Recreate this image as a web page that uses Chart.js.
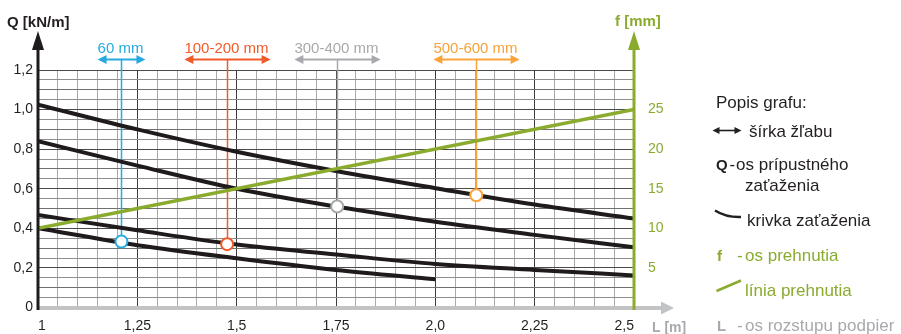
<!DOCTYPE html>
<html>
<head>
<meta charset="utf-8">
<script src="https://cdn.jsdelivr.net/npm/chart.js@4/dist/chart.umd.min.js"></script>
<style>
  html, body { margin: 0; padding: 0; background: #ffffff; }
  #wrap { width: 901px; height: 334px; position: relative; }
</style>
</head>
<body>
<div id="wrap"><canvas id="c" width="901" height="334"></canvas></div>
<script>
// ---- data ----
const spanL = [1, 1.25, 1.5, 1.75, 2.0, 2.25, 2.5];           // L [m]
const curveA = [1.025, 0.90, 0.787, 0.69, 0.603, 0.52, 0.45];  // Q [kN/m]
const curveB = [0.84, 0.717, 0.60, 0.51, 0.433, 0.367, 0.304];
const curveC = [0.4675, 0.39, 0.318, 0.268, 0.22, 0.19, 0.162];
const spanD = [1, 1.25, 1.5, 1.75, 2.0];
const curveD = [0.40, 0.315, 0.249, 0.19, 0.143];
const deflectionL = [1, 2.5];
const deflectionF = [10, 25];                                   // f [mm]
const widthLabels = ['60 mm', '100-200 mm', '300-400 mm', '500-600 mm'];
const markerL = [1.21, 1.476, 1.753, 2.103];
const markerQ = [0.333, 0.32, 0.51, 0.567];
const xTickValues = [1, 1.25, 1.5, 1.75, 2.0, 2.25, 2.5];
const xTickLabels = ['1', '1,25', '1,5', '1,75', '2,0', '2,25', '2,5'];
const yTickValues = [0, 0.2, 0.4, 0.6, 0.8, 1.0, 1.2];
const yTickLabels = ['0', '0,2', '0,4', '0,6', '0,8', '1,0', '1,2'];
const fTickValues = [5, 10, 15, 20, 25];
const fTickLabels = ['5', '10', '15', '20', '25'];

// ---- styles ----
const markerColors = ['#27aae1', '#f15a29', '#a7a9ac', '#f9a33a'];
const GREEN = '#8aab2e';
const BLACK = '#1f1b1c';
const TEXT = '#231f20';
const GREY = '#a7a9ac';
const FONT = '"Liberation Sans", Arial, Helvetica, sans-serif';

function near(a, b) { return Math.abs(a - b) < 1e-6; }
function isMult(v, s) { const r = v / s; return Math.abs(r - Math.round(r)) < 1e-6; }
function pts(xs, ys) { return xs.map((v, i) => ({ x: v, y: ys[i] })); }

function arrowHead(ctx, tx, ty, dx, dy, len, half) {
  const bx = tx - dx * len, by = ty - dy * len;
  ctx.beginPath();
  ctx.moveTo(tx, ty);
  ctx.lineTo(bx - dy * half, by + dx * half);
  ctx.lineTo(bx + dy * half, by - dx * half);
  ctx.closePath();
  ctx.fill();
}

const deco = {
  id: 'deco',
  beforeDatasetsDraw(chart) {
    const { ctx, scales: { x, y }, chartArea } = chart;
    const topY = chartArea.top - 10.5;
    ctx.save();
    markerL.forEach((l, i) => {
      const px = Math.round(x.getPixelForValue(l)) + 0.5;
      const py = y.getPixelForValue(markerQ[i]);
      ctx.strokeStyle = markerColors[i];
      ctx.lineWidth = 1.5;
      ctx.beginPath();
      ctx.moveTo(px, topY);
      ctx.lineTo(px, py);
      ctx.stroke();
    });
    ctx.restore();
  },
  afterDatasetsDraw(chart) {
    const { ctx, chartArea } = chart;
    const L = chartArea.left, R = chartArea.right, B = chartArea.bottom;
    ctx.save();
    ctx.strokeStyle = '#c2c3c5';
    ctx.fillStyle = '#c2c3c5';
    ctx.lineWidth = 4;
    ctx.beginPath(); ctx.moveTo(L, B + 0.5); ctx.lineTo(R + 30, B + 0.5); ctx.stroke();
    arrowHead(ctx, R + 40, B + 0.5, 1, 0, 13, 6.5);
    ctx.strokeStyle = BLACK; ctx.fillStyle = BLACK; ctx.lineWidth = 3;
    ctx.beginPath(); ctx.moveTo(L, B + 2.5); ctx.lineTo(L, 48); ctx.stroke();
    arrowHead(ctx, L, 31, 0, -1, 19, 6);
    ctx.strokeStyle = GREEN; ctx.fillStyle = GREEN; ctx.lineWidth = 3;
    ctx.beginPath(); ctx.moveTo(R, B + 2.5); ctx.lineTo(R, 48); ctx.stroke();
    arrowHead(ctx, R, 31, 0, -1, 19, 6);
    ctx.restore();
  },
  afterDraw(chart) {
    const { ctx, scales: { x }, chartArea } = chart;
    const topY = chartArea.top - 10.5;
    ctx.save();
    ctx.font = '15px ' + FONT;
    ctx.textAlign = 'center';
    ctx.textBaseline = 'alphabetic';
    markerL.forEach((l, i) => {
      const px = Math.round(x.getPixelForValue(l)) + 0.5;
      const w = ctx.measureText(widthLabels[i]).width;
      ctx.fillStyle = markerColors[i];
      ctx.strokeStyle = markerColors[i];
      ctx.fillText(widthLabels[i], px - 1, 53);
      const half = w / 2 + 1;
      ctx.lineWidth = 1.8;
      ctx.beginPath(); ctx.moveTo(px - half + 6, topY); ctx.lineTo(px + half - 6, topY); ctx.stroke();
      arrowHead(ctx, px - half, topY, -1, 0, 9, 4.5);
      arrowHead(ctx, px + half, topY, 1, 0, 9, 4.5);
    });
    ctx.textAlign = 'left';
    ctx.font = 'bold 15px ' + FONT;
    ctx.fillStyle = TEXT;
    ctx.fillText('Q [kN/m]', 7, 27);
    ctx.fillStyle = GREEN;
    ctx.fillText('f [mm]', 615, 26);
    ctx.fillStyle = GREY;
    ctx.font = 'bold 14px ' + FONT;
    ctx.fillText('L [m]', 652, 332);

    // legend
    const LX = 716;
    const REG = '17px ' + FONT, BOLD = 'bold 15px ' + FONT;
    ctx.font = REG;
    ctx.fillStyle = TEXT;
    ctx.fillText('Popis grafu:', LX, 108);
    ctx.strokeStyle = TEXT; ctx.lineWidth = 1.6;
    ctx.beginPath(); ctx.moveTo(718, 130.5); ctx.lineTo(736, 130.5); ctx.stroke();
    arrowHead(ctx, 712.5, 130.5, -1, 0, 7, 3.5);
    arrowHead(ctx, 741.5, 130.5, 1, 0, 7, 3.5);
    ctx.fillText('šírka žľabu', 749, 137);
    ctx.font = BOLD;
    ctx.fillText('Q', LX, 170);
    ctx.font = REG;
    ctx.fillText('-', 729.5, 170);
    ctx.fillText('os prípustného', 736, 170);
    ctx.fillText('zaťaženia', 745, 191);
    ctx.lineWidth = 2.5;
    ctx.beginPath(); ctx.moveTo(715, 210.5); ctx.quadraticCurveTo(726, 217.5, 741, 217); ctx.stroke();
    ctx.fillText('krivka zaťaženia', 747, 226);
    ctx.fillStyle = GREEN;
    ctx.font = BOLD;
    ctx.fillText('f', LX + 1, 261);
    ctx.font = REG;
    ctx.fillText('-', 737, 261);
    ctx.fillText('os prehnutia', 745, 261);
    ctx.strokeStyle = GREEN; ctx.lineWidth = 2.5;
    ctx.beginPath(); ctx.moveTo(716.5, 291); ctx.lineTo(741, 280.5); ctx.stroke();
    ctx.fillText('línia prehnutia', 745, 296);
    ctx.fillStyle = GREY;
    ctx.font = BOLD;
    ctx.fillText('L', LX + 1, 331);
    ctx.font = REG;
    ctx.fillText('-', 737, 331);
    ctx.fillText('os rozstupu podpier', 745, 331);
    ctx.restore();
  }
};

const curveStyle = (data) => ({
  type: 'line', data, yAxisID: 'y', borderColor: BLACK, borderWidth: 4,
  pointRadius: 0, cubicInterpolationMode: 'monotone', order: 3, fill: false
});

new Chart(document.getElementById('c'), {
  type: 'line',
  data: {
    datasets: [
      {
        type: 'scatter', data: pts(markerL, markerQ), yAxisID: 'y', showLine: false,
        pointRadius: 6, pointHoverRadius: 6, pointBackgroundColor: '#ffffff',
        pointBorderColor: markerColors, pointBorderWidth: 2, order: 0
      },
      {
        type: 'line', data: pts(deflectionL, deflectionF), yAxisID: 'y2',
        borderColor: GREEN, borderWidth: 3.5, pointRadius: 0, order: 1, fill: false
      },
      curveStyle(pts(spanL, curveA)),
      curveStyle(pts(spanL, curveB)),
      curveStyle(pts(spanL, curveC)),
      curveStyle(pts(spanD, curveD))
    ]
  },
  options: {
    responsive: false,
    animation: false,
    events: [],
    layout: { padding: { top: 70, left: 0, right: 0, bottom: 0 } },
    plugins: { legend: { display: false }, tooltip: { enabled: false } },
    scales: {
      x: {
        type: 'linear', min: 1, max: 2.5,
        border: { display: false },
        grid: {
          drawTicks: false,
          color: (c) => (c.tick && isMult(c.tick.value, 0.25)) ? '#3c3c3c' : '#a9a9a9',
          lineWidth: 1
        },
        ticks: {
          stepSize: 0.05, autoSkip: false, maxRotation: 0, align: 'inner',
          padding: 10, color: TEXT, font: { family: FONT, size: 14 },
          callback: (v) => {
            const i = xTickValues.findIndex(t => near(t, v));
            return i >= 0 ? xTickLabels[i] : '';
          }
        },
        afterFit: (s) => { s.height = 26.5; }
      },
      y: {
        type: 'linear', position: 'left', min: 0, max: 1.2,
        border: { display: false },
        grid: {
          drawTicks: false,
          color: (c) => {
            if (!c.tick) return '#888';
            const v = c.tick.value;
            if (isMult(v, 0.2)) return '#4a4a4a';
            if (isMult(v, 0.1)) return '#707070';
            return '#8e8e8e';
          },
          lineWidth: 1
        },
        ticks: {
          stepSize: 0.05, autoSkip: false, padding: 5, color: TEXT,
          font: { family: FONT, size: 14 },
          callback: (v) => {
            const i = yTickValues.findIndex(t => near(t, v));
            return i >= 0 ? yTickLabels[i] : '';
          }
        },
        afterFit: (s) => { s.width = 38; }
      },
      y2: {
        type: 'linear', position: 'right', min: 0, max: 30,
        border: { display: false },
        grid: { display: false, drawTicks: false },
        ticks: {
          stepSize: 5, autoSkip: false, padding: 14, color: GREEN,
          font: { family: FONT, size: 14 },
          callback: (v) => {
            const i = fTickValues.findIndex(t => near(t, v));
            return i >= 0 ? fTickLabels[i] : '';
          }
        },
        afterFit: (s) => { s.width = 267; }
      }
    }
  },
  plugins: [deco]
});
</script>
</body>
</html>
